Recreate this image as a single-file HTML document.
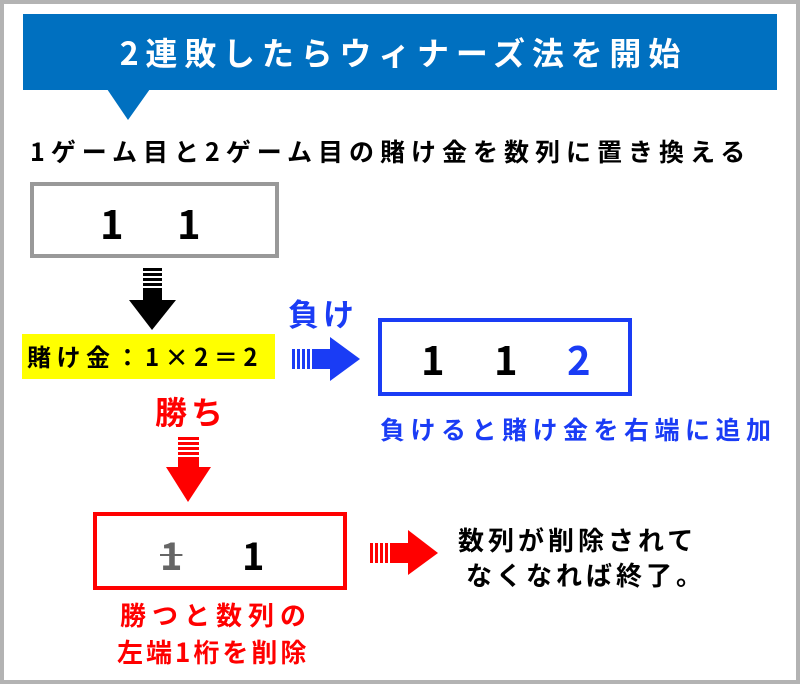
<!DOCTYPE html>
<html><head><meta charset="utf-8"><style>
*{margin:0;padding:0;box-sizing:border-box}
body{width:800px;height:684px;background:#fff;position:relative;overflow:hidden;font-family:"Noto Sans CJK JP","Liberation Sans",sans-serif;font-weight:bold}
.frame{position:absolute;left:0;top:0;width:800px;height:684px;border:4px solid #b3b3b3}
.a{position:absolute;white-space:nowrap;line-height:1}
.box{position:absolute;border:4px solid}
</style></head><body>
<div class="frame"></div>
<div class="a" style="left:23px;top:14px;width:754px;height:76px;background:#0070c0"></div>
<svg class="a" style="left:0;top:0" width="800" height="684">
<polygon points="107,89 150,89 128,120" fill="#0070c0"/>
<g fill="#000"><rect x="143" y="268" width="19" height="3"/><rect x="143" y="273" width="19" height="3"/><rect x="143" y="278" width="19" height="3"/><rect x="143" y="283" width="19" height="3"/><rect x="143" y="288" width="19" height="12"/><polygon points="129,300 176,300 152,330"/></g>
<g fill="#1a3cf5"><rect x="292" y="349" width="3" height="20"/><rect x="297" y="349" width="3" height="20"/><rect x="302" y="349" width="3" height="20"/><rect x="307" y="349" width="3" height="20"/><rect x="312" y="349" width="18" height="20"/><polygon points="330,337 330,381 360,359"/></g>
<g fill="#ff0000"><rect x="178" y="437" width="21" height="3"/><rect x="178" y="442" width="21" height="3"/><rect x="178" y="447" width="21" height="3"/><rect x="178" y="452" width="21" height="3"/><rect x="178" y="457" width="21" height="10"/><polygon points="166,467 211,467 188,502"/></g>
<g fill="#ff0000"><rect x="370" y="543" width="3" height="20"/><rect x="375" y="543" width="3" height="20"/><rect x="380" y="543" width="3" height="20"/><rect x="385" y="543" width="3" height="20"/><rect x="390" y="543" width="18" height="20"/><polygon points="408,530 408,575 438,553"/></g>
</svg>
<div class="a" style="left:23px;width:754px;top:36px;text-align:center;color:#fff;font-size:32px;letter-spacing:6.8px;text-indent:6.8px">2連敗したらウィナーズ法を開始</div>
<div class="a" style="left:30px;top:139px;font-size:25px;letter-spacing:6px;color:#000">1ゲーム目と2ゲーム目の賭け金を数列に置き換える</div>
<div class="box" style="left:30px;top:182px;width:249px;height:76px;border-color:#999"></div>
<div class="a" style="left:100px;top:202px;font-size:40px">1</div>
<div class="a" style="left:177px;top:202px;font-size:40px">1</div>
<div class="a" style="left:22px;top:334px;width:253px;height:45px;background:#ffff00"></div>
<div class="a" style="left:27px;top:344px;font-size:24px;letter-spacing:5.5px">賭け金：1×2＝2</div>
<div class="a" style="left:288px;top:297px;font-size:31px;letter-spacing:4px;color:#1a3cf5">負け</div>
<div class="box" style="left:378px;top:318px;width:254px;height:78px;border-color:#1a3cf5"></div>
<div class="a" style="left:421px;top:338px;font-size:40px">1</div>
<div class="a" style="left:494px;top:338px;font-size:40px">1</div>
<div class="a" style="left:567px;top:338px;font-size:40px;color:#1a3cf5">2</div>
<div class="a" style="left:380px;top:417px;font-size:25px;letter-spacing:5.5px;color:#1a3cf5">負けると賭け金を右端に追加</div>
<div class="a" style="left:155px;top:395px;font-size:32px;letter-spacing:4px;color:#ff0000">勝ち</div>
<div class="box" style="left:93px;top:512px;width:254px;height:78px;border-color:#ff0000"></div>
<div class="a" style="left:160px;top:535px;font-size:38px;color:#666;text-decoration:line-through;text-decoration-thickness:2px">1</div>
<div class="a" style="left:242px;top:535px;font-size:38px">1</div>
<div class="a" style="left:458px;top:527px;font-size:26px;letter-spacing:4px">数列が削除されて</div>
<div class="a" style="left:466px;top:562px;font-size:26px;letter-spacing:4px">なくなれば終了。</div>
<div class="a" style="left:120px;top:602px;font-size:26px;letter-spacing:6px;color:#ff0000">勝つと数列の</div>
<div class="a" style="left:117px;top:639px;font-size:26px;letter-spacing:3px;color:#ff0000">左端1桁を削除</div>
</body></html>
